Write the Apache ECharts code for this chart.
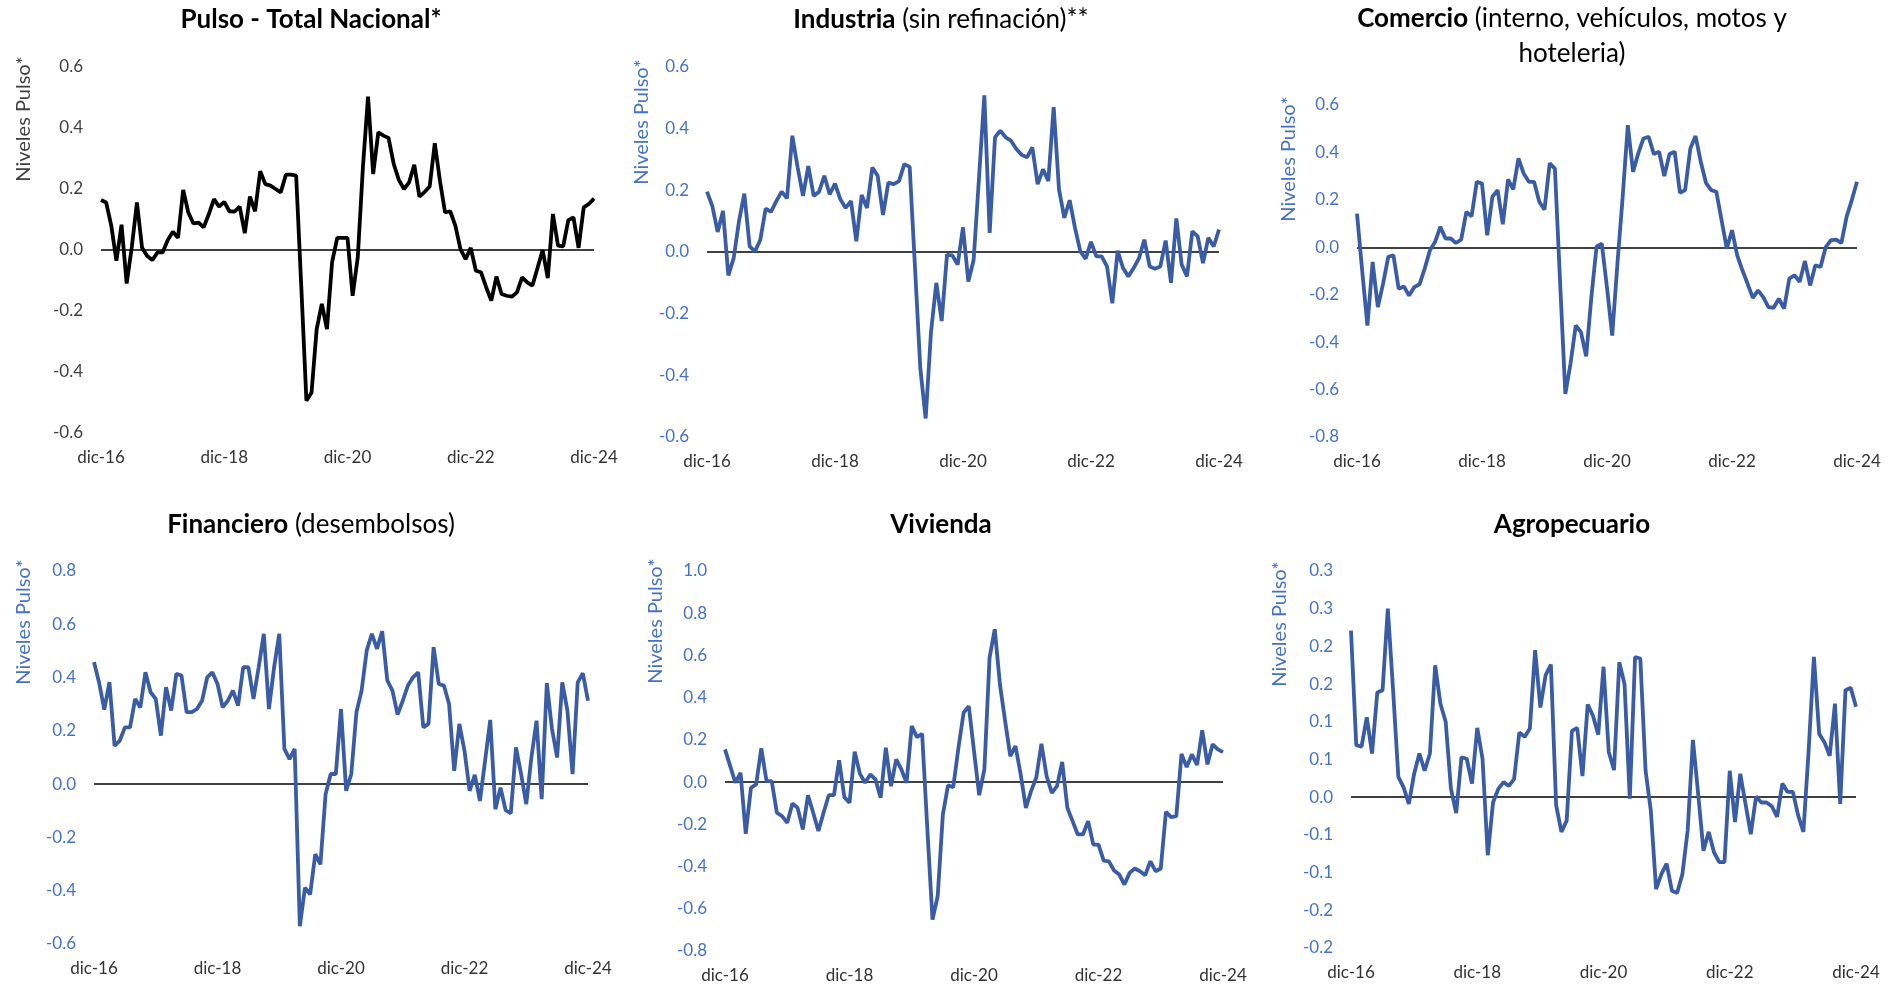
<!DOCTYPE html>
<html>
<head>
<meta charset="utf-8">
<script src="https://cdn.jsdelivr.net/npm/echarts@6/dist/echarts.min.js"></script>
<style>
  html, body { margin: 0; padding: 0; background: #fff; }
  #main { width: 1901px; height: 984px; }
</style>
</head>
<body>
<div id="main"></div>
<script>
var myChart = echarts.init(document.getElementById('main'));

// meses (dic-16 ... dic-24)
var mesesAbr = ['ene', 'feb', 'mar', 'abr', 'may', 'jun', 'jul', 'ago', 'sep', 'oct', 'nov', 'dic'];
var categorias = ['dic-16'];
for (var a = 17; a <= 24; a++) {
    for (var m = 0; m < 12; m++) categorias.push(mesesAbr[m] + '-' + a);
}

var totalNacional = [0.164,0.156,0.08,-0.035,0.083,-0.11,0.01,0.156,0.007,-0.02,
    -0.033,-0.008,-0.008,0.033,0.06,0.04,0.197,0.123,0.087,0.09,
    0.074,0.118,0.167,0.142,0.158,0.127,0.126,0.142,0.055,0.175,
    0.127,0.258,0.216,0.211,0.2,0.189,0.247,0.247,0.244,-0.12,
    -0.494,-0.467,-0.259,-0.177,-0.259,-0.04,0.04,0.04,0.04,-0.15,
    -0.024,0.271,0.503,0.249,0.386,0.375,0.367,0.282,0.23,0.2,
    0.222,0.279,0.175,0.19,0.208,0.35,0.227,0.123,0.127,0.08,
    0.003,-0.03,0.007,-0.068,-0.073,-0.122,-0.166,-0.087,-0.144,-0.15,
    -0.153,-0.139,-0.09,-0.106,-0.117,-0.059,0,-0.092,0.118,0.014,
    0.012,0.098,0.107,0.007,0.14,0.151,0.169];

var industria = [0.196,0.149,0.065,0.133,-0.076,-0.02,0.1,0.189,0.018,0.002,
    0.04,0.141,0.13,0.165,0.196,0.174,0.377,0.274,0.182,0.279,
    0.182,0.195,0.247,0.187,0.222,0.171,0.143,0.165,0.035,0.185,
    0.143,0.274,0.247,0.12,0.225,0.22,0.23,0.285,0.276,-0.05,
    -0.378,-0.54,-0.26,-0.1,-0.224,-0.009,-0.011,-0.041,0.08,-0.096,
    -0.025,0.24,0.508,0.062,0.372,0.393,0.372,0.361,0.334,0.315,
    0.307,0.339,0.22,0.268,0.23,0.47,0.203,0.111,0.168,0.078,
    0.002,-0.022,0.033,-0.014,-0.014,-0.047,-0.166,0.004,-0.052,-0.079,
    -0.052,-0.02,0.04,-0.047,-0.054,-0.047,0.037,-0.1,0.109,-0.041,
    -0.079,0.067,0.051,-0.036,0.046,0.018,0.073];

var comercio = [0.142,-0.1,-0.33,-0.062,-0.252,-0.154,-0.04,-0.034,-0.175,-0.165,
    -0.203,-0.168,-0.156,-0.09,-0.013,0.023,0.086,0.037,0.037,0.018,
    0.032,0.149,0.131,0.276,0.269,0.051,0.213,0.241,0.097,0.286,
    0.244,0.375,0.311,0.276,0.276,0.192,0.159,0.354,0.332,-0.15,
    -0.618,-0.49,-0.33,-0.358,-0.46,-0.21,0.004,0.015,-0.17,-0.372,
    -0.07,0.21,0.515,0.318,0.396,0.459,0.466,0.393,0.403,0.3,
    0.393,0.403,0.23,0.241,0.417,0.469,0.361,0.272,0.241,0.234,
    0.114,-0.006,0.072,-0.034,-0.097,-0.154,-0.213,-0.182,-0.21,-0.252,
    -0.255,-0.217,-0.259,-0.132,-0.118,-0.146,-0.058,-0.161,-0.076,-0.083,
    0.001,0.03,0.032,0.018,0.128,0.199,0.276];

var financiero = [0.458,0.38,0.28,0.383,0.144,0.163,0.213,0.213,0.32,0.288,
    0.42,0.345,0.32,0.182,0.364,0.276,0.414,0.408,0.27,0.27,
    0.282,0.313,0.401,0.42,0.376,0.288,0.313,0.351,0.295,0.439,
    0.439,0.32,0.439,0.564,0.282,0.439,0.564,0.132,0.094,0.132,
    -0.533,-0.389,-0.414,-0.263,-0.301,-0.038,0.038,0.038,0.282,-0.025,
    0.038,0.27,0.351,0.502,0.564,0.508,0.574,0.389,0.351,0.261,
    0.313,0.37,0.401,0.42,0.213,0.226,0.514,0.376,0.37,0.301,
    0.05,0.226,0.125,-0.025,0.035,-0.063,0.088,0.241,-0.094,-0.013,
    -0.098,-0.11,0.138,0.038,-0.075,0.1,0.238,-0.056,0.379,0.207,
    0.1,0.382,0.276,0.038,0.382,0.416,0.313];

var vivienda = [0.155,0.076,-0.003,0.044,-0.245,-0.027,-0.011,0.16,0.005,0.005,
    -0.145,-0.161,-0.193,-0.101,-0.122,-0.224,-0.062,-0.145,-0.232,-0.145,
    -0.062,-0.062,0.103,-0.071,-0.098,0.144,0.04,-0.003,0.036,0.013,
    -0.074,0.163,-0.019,0.108,0.06,-0.003,0.266,0.213,0.229,-0.22,
    -0.651,-0.54,-0.153,-0.015,-0.024,0.163,0.329,0.36,0.147,-0.062,
    0.06,0.59,0.724,0.463,0.289,0.123,0.171,0.036,-0.122,-0.043,
    0.021,0.182,0.028,-0.051,-0.019,0.096,-0.122,-0.185,-0.248,-0.248,
    -0.185,-0.296,-0.296,-0.372,-0.375,-0.419,-0.438,-0.485,-0.43,-0.409,
    -0.422,-0.441,-0.375,-0.422,-0.409,-0.141,-0.166,-0.161,0.134,0.071,
    0.131,0.081,0.245,0.084,0.179,0.155,0.142];

var agropecuario = [0.221,0.069,0.067,0.106,0.058,0.139,0.142,0.25,0.142,0.027,
    0.013,-0.009,0.031,0.058,0.035,0.058,0.175,0.124,0.1,0.011,
    -0.021,0.053,0.051,0.018,0.092,0.051,-0.077,-0.007,0.011,0.02,
    0.015,0.024,0.086,0.08,0.091,0.195,0.119,0.162,0.176,-0.011,
    -0.046,-0.031,0.088,0.092,0.028,0.123,0.108,0.083,0.173,0.06,
    0.036,0.179,0.15,-0.002,0.186,0.184,0.035,-0.018,-0.122,-0.102,
    -0.088,-0.124,-0.127,-0.102,-0.044,0.076,0.004,-0.071,-0.046,-0.073,
    -0.086,-0.086,0.035,-0.033,0.031,-0.009,-0.049,0.001,-0.007,-0.007,
    -0.012,-0.026,0.018,0.007,0.007,-0.024,-0.046,0.062,0.186,0.084,
    0.073,0.055,0.124,-0.009,0.142,0.145,0.12];

var titulos = ['Pulso - Total Nacional*', '{b|Industria} (sin refinación)**',
    '{b|Comercio} (interno, vehículos, motos y\nhoteleria)', '{b|Financiero} (desembolsos)',
    'Vivienda', 'Agropecuario'];
var series6 = [totalNacional, industria, comercio, financiero, vivienda, agropecuario];
var ejeNombre = 'Niveles Pulso*';

var fuente = 'Lato';
var azul = '#3A5CA5';
var azulTexto = '#4472C4';

// layout of each panel
var paneles = [
    { left: 101, top: 67, width: 493, height: 366, min: -0.6, max: 0.6, step: 0.2, tx: 311, ty: 5, nx: 24, ny: 119, line: '#000', lab: '#404040' },
    { left: 707, top: 67, width: 512, height: 370, min: -0.6, max: 0.6, step: 0.2, tx: 941, ty: 5, nx: 642, ny: 122, line: azul, lab: azulTexto },
    { left: 1357, top: 105, width: 500, height: 332, min: -0.8, max: 0.6, step: 0.2, tx: 1572, ty: 1, nx: 1289, ny: 159, line: azul, lab: azulTexto },
    { left: 94, top: 571, width: 494, height: 373, min: -0.6, max: 0.8, step: 0.2, tx: 311, ty: 510, nx: 24, ny: 622, line: azul, lab: azulTexto },
    { left: 725, top: 571, width: 498, height: 380, min: -0.8, max: 1.0, step: 0.2, tx: 941, ty: 510, nx: 656, ny: 621, line: azul, lab: azulTexto },
    { left: 1351, top: 571, width: 505, height: 377, min: -0.2, max: 0.3, step: 0.05, tx: 1572, ty: 510, nx: 1280, ny: 624, line: azul, lab: azulTexto }
];

function fmt1(v) {
    var r = Math.sign(v) * Math.round(Math.abs(v) * 10 + 1e-9) / 10;
    return r.toFixed(1);
}

var option = {
    backgroundColor: '#fff',
    animation: false,
    title: [], grid: [], xAxis: [], yAxis: [], series: [], graphic: []
};

paneles.forEach(function (p, k) {
    var lh = k === 2 ? 35 : 30;
    option.title.push({
        text: titulos[k],
        left: p.tx, top: p.ty, textAlign: 'center', padding: 0,
        textStyle: {
            fontFamily: fuente, fontSize: 26, color: '#000',
            fontWeight: (k === 0 || k >= 4) ? 'bold' : 'normal',
            lineHeight: lh,
            rich: { b: { fontFamily: fuente, fontSize: 26, fontWeight: 'bold', color: '#000', lineHeight: lh } }
        }
    });
    option.grid.push({ left: p.left, top: p.top, width: p.width, height: p.height, outerBoundsMode: 'none' });
    option.xAxis.push({
        type: 'category', gridIndex: k, data: categorias, boundaryGap: false,
        axisLine: { show: false }, axisTick: { show: false }, splitLine: { show: false },
        axisLabel: { interval: 23, color: '#333', fontFamily: fuente, fontSize: 17, margin: 16 }
    });
    option.yAxis.push({
        type: 'value', gridIndex: k, min: p.min, max: p.max, interval: p.step,
        axisLine: { show: false }, axisTick: { show: false }, splitLine: { show: false },
        axisLabel: { color: p.lab, fontFamily: fuente, fontSize: 17, margin: 18, formatter: fmt1 }
    });
    option.series.push({
        type: 'line', xAxisIndex: k, yAxisIndex: k, data: series6[k],
        symbol: 'none', lineStyle: { color: p.line, width: 3.8 }, z: 3,
        markLine: {
            silent: true, symbol: 'none', label: { show: false },
            lineStyle: { color: '#000', width: 1.5, type: 'solid' },
            data: [{ yAxis: 0 }], z: 2
        }
    });
    option.graphic.push({
        type: 'text', x: p.nx, y: p.ny, rotation: Math.PI / 2,
        style: { text: ejeNombre, fill: p.lab, font: '20px ' + fuente, textAlign: 'center', textVerticalAlign: 'middle' }
    });
});

myChart.setOption(option);
</script>
</body>
</html>
